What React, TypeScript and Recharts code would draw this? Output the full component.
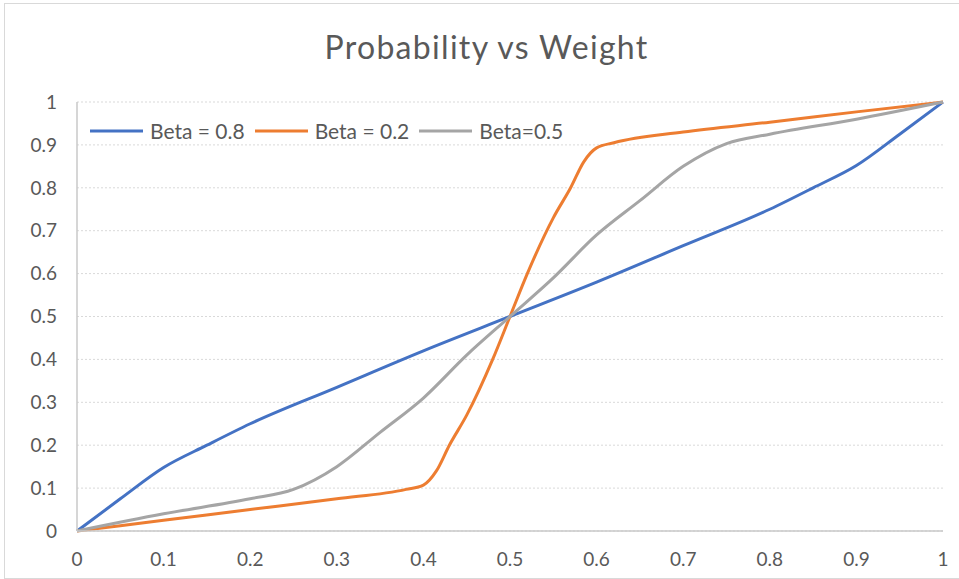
import React from 'react';
import { LineChart, Line, XAxis, YAxis, CartesianGrid, Legend } from 'recharts';

const X_TICKS = [0, 0.1, 0.2, 0.3, 0.4, 0.5, 0.6, 0.7, 0.8, 0.9, 1];
const Y_TICKS = [0, 0.1, 0.2, 0.3, 0.4, 0.5, 0.6, 0.7, 0.8, 0.9, 1];

const SERIES_NAMES = ['Beta = 0.8', 'Beta = 0.2', 'Beta=0.5'];

// Beta = 0.8
const beta08W = [0, 0.05, 0.1, 0.15, 0.2, 0.3, 0.4, 0.5, 0.6, 0.7, 0.8, 0.85, 0.9, 0.95, 1];
const beta08P = [0, 0.075, 0.148, 0.2, 0.25, 0.335, 0.42, 0.5, 0.58, 0.665, 0.75, 0.8, 0.852, 0.925, 1];

// Beta = 0.2
const beta02W = [0, 0.1, 0.2, 0.3, 0.38, 0.4, 0.415, 0.43, 0.45, 0.48, 0.5, 0.52, 0.55, 0.57, 0.585, 0.6, 0.62, 0.7, 0.8, 0.9, 1];
const beta02P = [0, 0.025, 0.05, 0.075, 0.097, 0.107, 0.14, 0.2, 0.27, 0.4, 0.5, 0.6, 0.73, 0.8, 0.86, 0.893, 0.905, 0.93, 0.953, 0.977, 1];

// Beta = 0.5
const beta05W = [0, 0.1, 0.2, 0.25, 0.3, 0.35, 0.4, 0.45, 0.5, 0.55, 0.6, 0.65, 0.7, 0.75, 0.8, 0.9, 1];
const beta05P = [0, 0.04, 0.075, 0.097, 0.15, 0.23, 0.31, 0.41, 0.5, 0.59, 0.69, 0.77, 0.85, 0.903, 0.925, 0.96, 1];

const toPoints = (w: number[], p: number[]) => w.map((x, i) => ({ w: x, p: p[i] }));

const TEXT = '#595959';
const FONT = 'Lato, "Liberation Sans", sans-serif';

const renderLegend = (props: any) => {
  const items = [...(props.payload || [])].sort(
    (a: any, b: any) => SERIES_NAMES.indexOf(a.value) - SERIES_NAMES.indexOf(b.value)
  );
  return (
    <div style={{ display: 'flex', alignItems: 'center', fontFamily: FONT, fontSize: 21, color: TEXT }}>
      {items.map((entry: any) => (
        <div key={entry.value} style={{ display: 'flex', alignItems: 'center', marginRight: 10 }}>
          <svg width={53} height={6} style={{ marginRight: 7 }}>
            <line x1={0} y1={3} x2={53} y2={3} stroke={entry.color} strokeWidth={3} />
          </svg>
          <span>{entry.value}</span>
        </div>
      ))}
    </div>
  );
};

export default function App() {
  return (
    <div style={{ position: 'absolute', left: 0, top: 0, width: 959, height: 579, background: '#fff' }}>
      <div style={{ position: 'absolute', left: 4, top: 3, width: 954, height: 574, border: '1px solid #d9d9d9' }} />
      <div
        style={{
          position: 'absolute', left: 0, top: 27, width: 973, textAlign: 'center',
          fontFamily: FONT, fontSize: 32, fontWeight: 400, letterSpacing: 1.3, color: TEXT,
        }}
      >
        Probability vs Weight
      </div>
      <LineChart width={959} height={579} margin={{ top: 102, right: 16, left: 17, bottom: 8 }}>
        <CartesianGrid vertical={false} stroke="#d9d9d9" strokeDasharray="2 2" />
        <XAxis
          dataKey="w" type="number" domain={[0, 1]} ticks={X_TICKS}
          axisLine={{ stroke: '#c8c8c8', strokeWidth: 1.5 }} tickLine={false} tickSize={0} tickMargin={22}
          height={40} tick={{ fill: TEXT, fontSize: 19, fontFamily: FONT }} allowDuplicatedCategory={false}
        />
        <YAxis
          type="number" domain={[0, 1]} ticks={Y_TICKS} width={60}
          axisLine={{ stroke: '#c8c8c8', strokeWidth: 1.5 }} tickLine={false} tickSize={0} tickMargin={20}
          tick={{ fill: TEXT, fontSize: 19, fontFamily: FONT }}
        />
        <Legend
          verticalAlign="middle" align="center" layout="horizontal" content={renderLegend}
          wrapperStyle={{ top: 118, left: 90, width: 'auto' }}
        />
        <Line data={toPoints(beta08W, beta08P)} dataKey="p" name="Beta = 0.8" type="monotone" stroke="#4472C4" strokeWidth={3} dot={false} isAnimationActive={false} />
        <Line data={toPoints(beta02W, beta02P)} dataKey="p" name="Beta = 0.2" type="monotone" stroke="#ED7D31" strokeWidth={3} dot={false} isAnimationActive={false} />
        <Line data={toPoints(beta05W, beta05P)} dataKey="p" name="Beta=0.5" type="monotone" stroke="#A5A5A5" strokeWidth={3} dot={false} isAnimationActive={false} />
      </LineChart>
    </div>
  );
}
